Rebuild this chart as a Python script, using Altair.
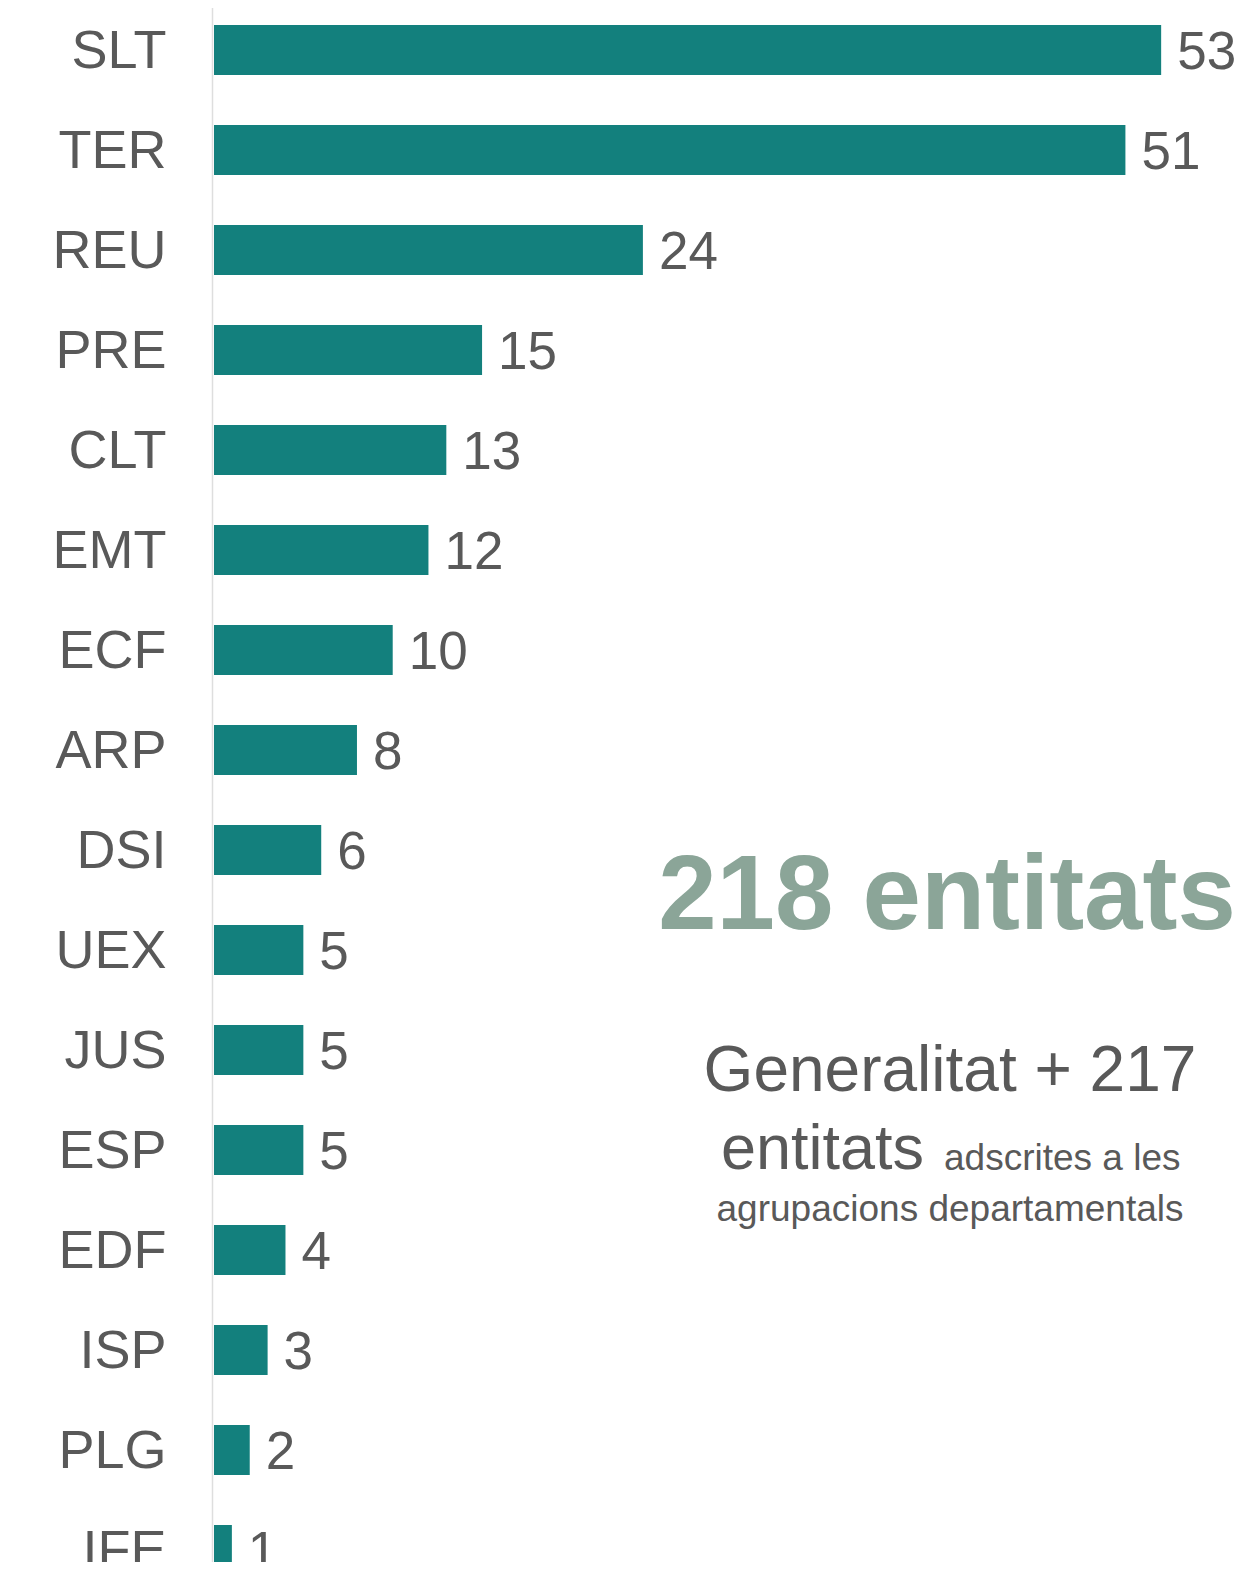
import altair as alt
import pandas as pd

categories = ["SLT", "TER", "REU", "PRE", "CLT", "EMT", "ECF", "ARP",
              "DSI", "UEX", "JUS", "ESP", "EDF", "ISP", "PLG", "IFE"]
values = [53, 51, 24, 15, 13, 12, 10, 8, 6, 5, 5, 5, 4, 3, 2, 1]

headline = "218 entitats"
line1 = "Generalitat + 217"
line2_big = "entitats"
line2_small = "adscrites a les"
line3 = "agrupacions departamentals"

df = pd.DataFrame({"cat": categories, "val": values})

FONT = "Liberation Sans"
GREY = "#595959"
TEAL = "#13807D"
W, H = 1024, 1554
SHIFT = 15

y_axis = alt.Axis(title=None, domain=False, ticks=False, tickSize=0,
                  labelFontSize=54, labelFont=FONT, labelColor=GREY,
                  labelPadding=48, labelBaseline="alphabetic",
                  labelOffset=SHIFT + 18, grid=False)
y_enc = alt.Y("cat:N", sort=categories,
              scale=alt.Scale(paddingInner=0.5, paddingOuter=0.02),
              axis=y_axis)
x_enc = alt.X("val:Q", scale=alt.Scale(domain=[0, 57.3], nice=False, zero=True),
              axis=None)

base = alt.Chart(df)

bars = base.mark_bar(color=TEAL, yOffset=SHIFT).encode(x=x_enc, y=y_enc)

labels = base.mark_text(align="left", baseline="alphabetic", dx=16, dy=SHIFT + 19,
                        fontSize=53, font=FONT, color=GREY).encode(
    x=x_enc, y=y_enc, text="val:Q")

axis_line = alt.Chart(pd.DataFrame({"v": [0]})).mark_rule(
    color="#dedede", strokeWidth=1.5, xOffset=-1.5).encode(
    x=alt.X("v:Q", axis=None), y=alt.value(-8), y2=alt.value(H))

def note(text, x, y, size, align="center", bold=False, color=GREY):
    return alt.Chart(pd.DataFrame({"t": [text]})).mark_text(
        align=align, baseline="alphabetic", fontSize=size, font=FONT,
        fontWeight="bold" if bold else "normal", color=color).encode(
        x=alt.value(x), y=alt.value(y), text="t:N")

notes = [
    note(headline, 733, 921, 105, bold=True, color="#8BA598"),
    note(line1, 736, 1083, 64),
    note(line2_big, 710, 1161, 63, align="right"),
    note(line2_small, 730, 1162, 37, align="left"),
    note(line3, 736, 1213, 37),
]

chart = alt.layer(axis_line, bars, labels, *notes).properties(
    width=W, height=H,
    autosize=alt.AutoSizeParams(type="none"),
    padding={"left": 206, "top": 0, "right": 0, "bottom": 0},
    background="white",
).configure_view(stroke=None)

chart.save("out.html", embed_options={"renderer": "svg", "actions": False})
